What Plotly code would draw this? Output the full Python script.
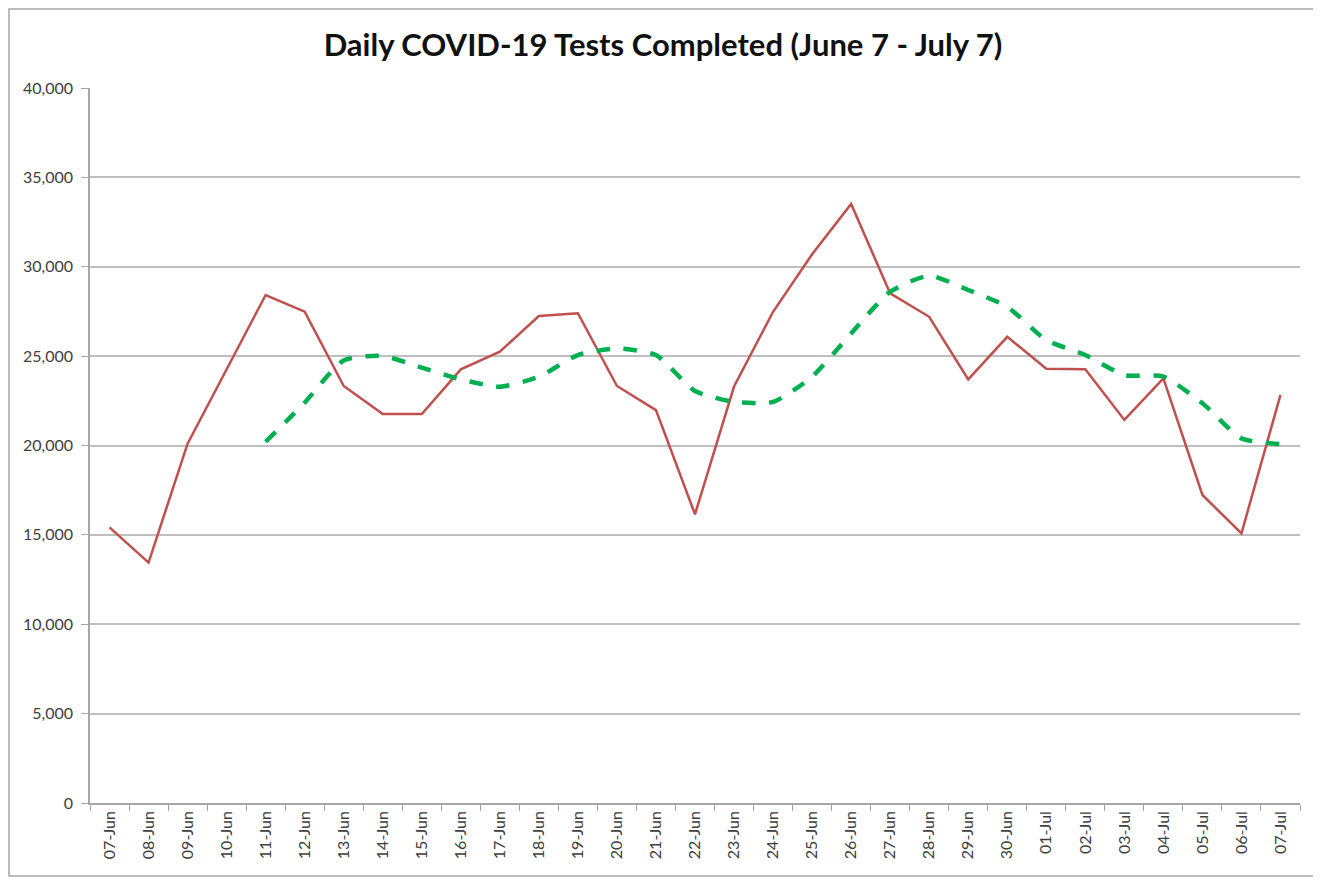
import plotly.graph_objects as go

dates = ["07-Jun","08-Jun","09-Jun","10-Jun","11-Jun","12-Jun","13-Jun","14-Jun","15-Jun","16-Jun",
         "17-Jun","18-Jun","19-Jun","20-Jun","21-Jun","22-Jun","23-Jun","24-Jun","25-Jun","26-Jun",
         "27-Jun","28-Jun","29-Jun","30-Jun","01-Jul","02-Jul","03-Jul","04-Jul","05-Jul","06-Jul","07-Jul"]

daily_tests = [15420, 13450, 20100, 24300, 28420, 27490, 23330, 21760, 21760, 24260,
               25250, 27240, 27400, 23330, 21980, 16150, 23300, 27480, 30700, 33510,
               28510, 27200, 23700, 26080, 24300, 24260, 21430, 23750, 17230, 15090, 22830]

avg_dates = dates[4:]
seven_day_avg = [20210, 22400, 24760, 25010, 24360, 23700, 23290, 23850, 25060, 25430,
                 25060, 23050, 22440, 22440, 23850, 26270, 28600, 29500, 28700, 27760,
                 25900, 25060, 23940, 23850, 22360, 20400, 20080]

y_ticks = [0, 5000, 10000, 15000, 20000, 25000, 30000, 35000, 40000]
title_text = "Daily COVID-19 Tests Completed (June 7 - July 7)"

fig = go.Figure()
fig.add_trace(go.Scatter(x=dates, y=daily_tests, mode="lines",
                         line=dict(color="#C0504D", width=2.5), name="Daily tests"))
fig.add_trace(go.Scatter(x=avg_dates, y=seven_day_avg, mode="lines",
                         line=dict(color="#00B050", width=4.5, dash="dash", shape="spline", smoothing=0.6),
                         name="7-day average"))

OFF = 8  # page body margin
L, R, T, B = 90 - OFF, 1300 - OFF, 88 - OFF, 803 - OFF
W, H = 1321 - OFF, 879 - OFF
pw, ph = R - L, B - T

def px(x):
    return (x - OFF - L) / pw

def py(y):
    return (B - (y - OFF)) / ph

fig.update_layout(
    width=W, height=H,
    margin=dict(l=L, r=W - R, t=T, b=H - B),
    paper_bgcolor="white", plot_bgcolor="white",
    showlegend=False,
    title=dict(text="<b>" + title_text + "</b>", x=px(663), xref="paper", xanchor="center",
               y=1 - (45 - OFF) / H, yanchor="middle",
               font=dict(family="Lato, Open Sans, sans-serif", size=31, color="#111111")),
    font=dict(family="Lato, Open Sans, sans-serif", color="#404040"),
    xaxis=dict(type="category", categoryorder="array", categoryarray=dates,
               range=[-0.5, len(dates) - 0.5],
               showgrid=False, showline=True, linecolor="#A6A6A6", linewidth=1.5,
               ticks="outside", tickson="boundaries", ticklen=6, tickcolor="#A6A6A6",
               tickangle=-90, tickfont=dict(size=16, color="#404040")),
    yaxis=dict(range=[0, 40000], tickvals=y_ticks, tickformat=",d",
               showgrid=True, gridcolor="#BFBFBF", gridwidth=1.5,
               showline=True, linecolor="#A6A6A6", linewidth=1.5,
               ticks="outside", ticklen=7, tickcolor="#A6A6A6", ticklabelstandoff=5,
               tickfont=dict(size=16, color="#404040"), zeroline=False),
    shapes=[dict(type="rect", xref="paper", yref="paper",
                 x0=px(OFF + 1), x1=px(1316), y0=py(876), y1=py(OFF + 1),
                 line=dict(color="#A6A6A6", width=1.5), fillcolor="rgba(0,0,0,0)", layer="below")],
)

fig.write_html("out.html")
